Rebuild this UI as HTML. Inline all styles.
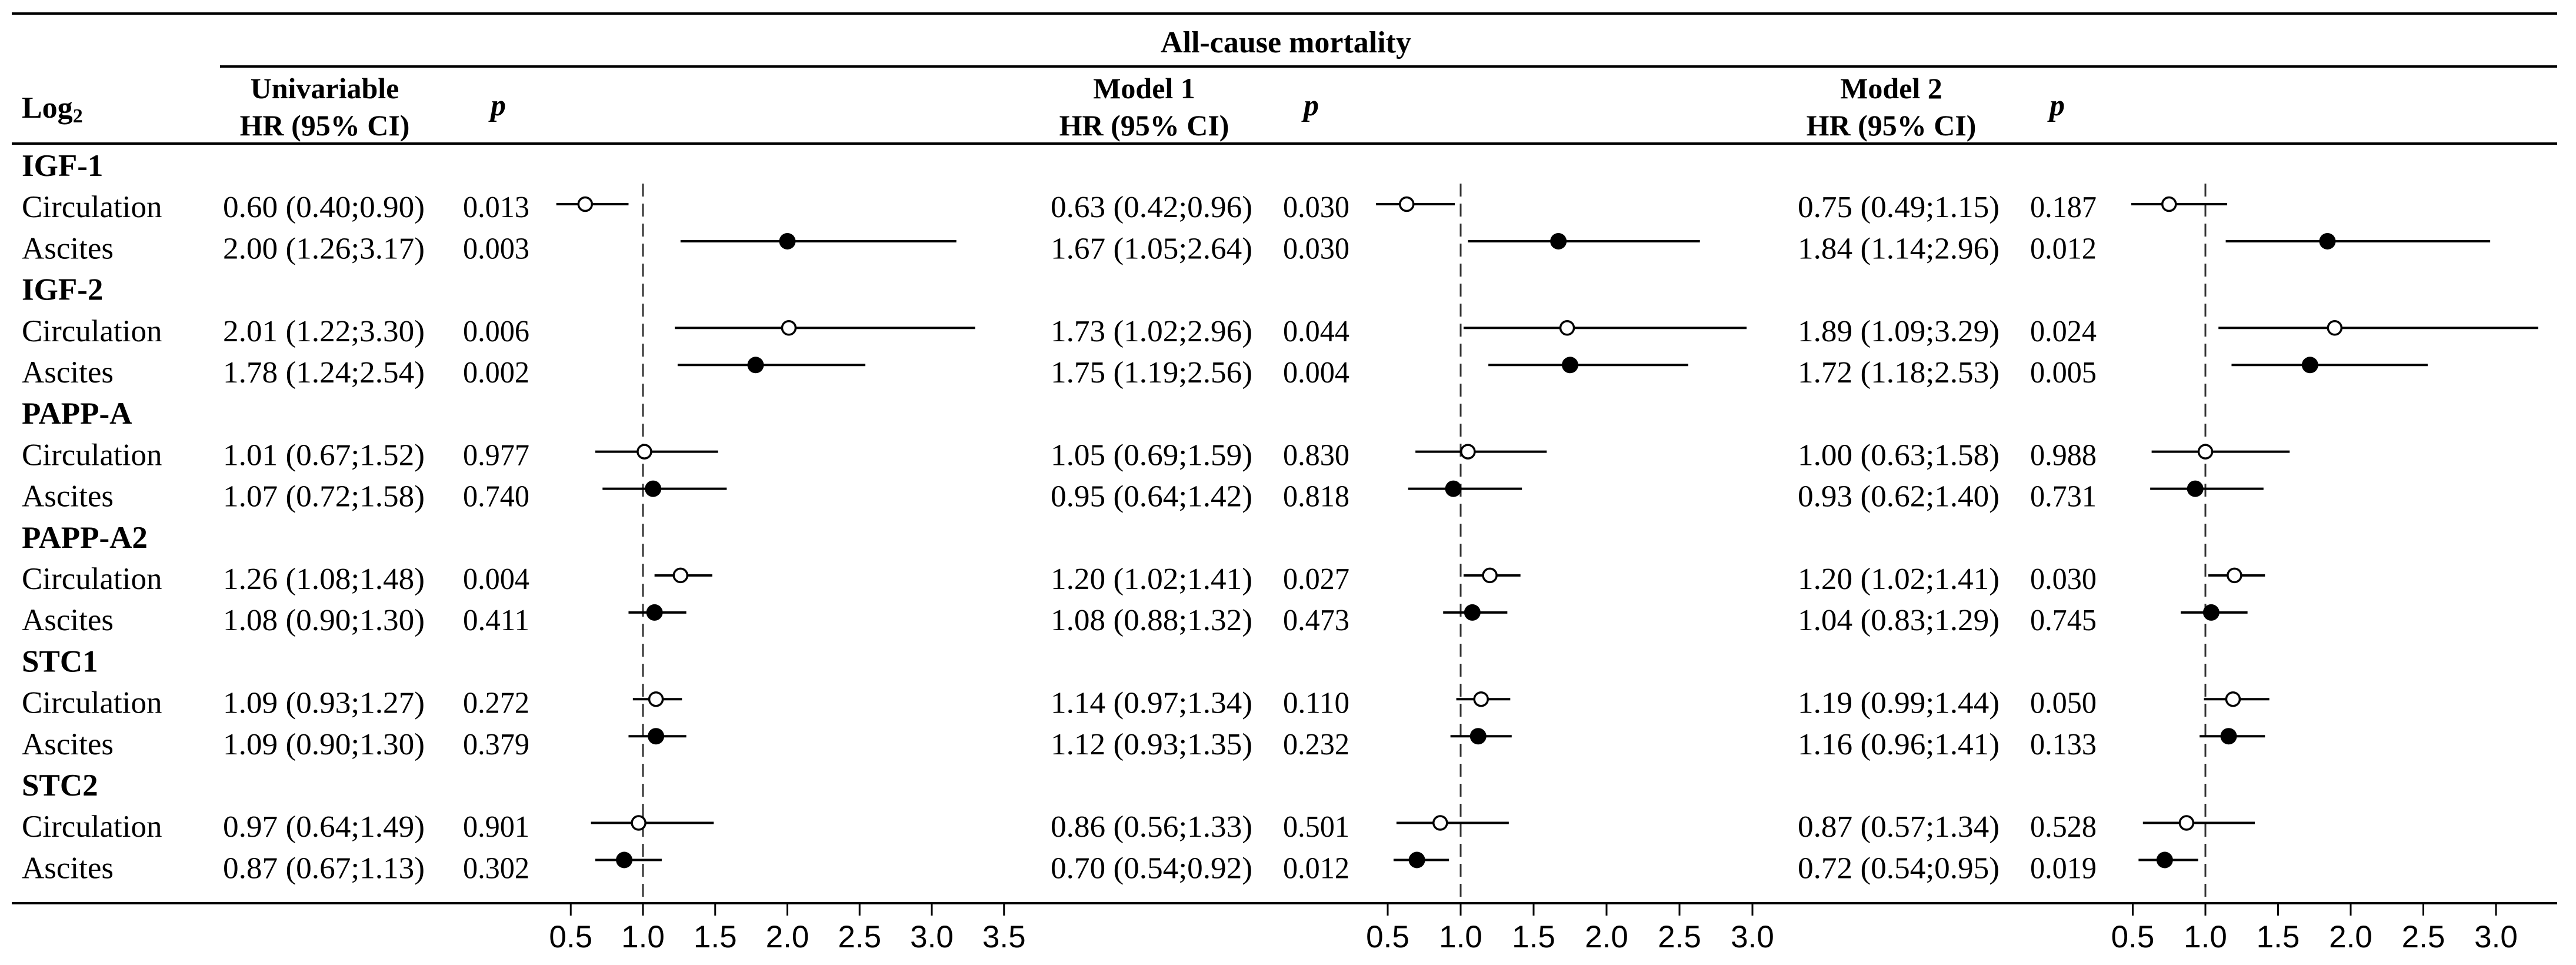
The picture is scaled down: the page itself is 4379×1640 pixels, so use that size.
<!DOCTYPE html>
<html><head><meta charset="utf-8"><style>
html,body{margin:0;padding:0;background:#fff;}
svg{display:block;}
text{font-family:"Liberation Serif",serif;fill:#000;}
.t{font-family:"Liberation Sans",sans-serif;font-size:53px;}
</style></head><body>
<svg id="chart" width="4379" height="1640" viewBox="0 0 4379 1640" xmlns="http://www.w3.org/2000/svg">
<g id="static">
<line x1="20" y1="23" x2="4347" y2="23" stroke="#000" stroke-width="4"/>
<text font-weight="bold" x="2186" y="89" font-size="52" text-anchor="middle">All-cause mortality</text>
<line x1="374" y1="113" x2="4347" y2="113" stroke="#000" stroke-width="4"/>
<text font-weight="bold" x="37" y="200" font-size="52">Log<tspan font-size="34" dy="8">2</tspan></text>
<line x1="20" y1="244" x2="4347" y2="244" stroke="#000" stroke-width="4"/>
<line x1="20" y1="1535" x2="4347" y2="1535" stroke="#000" stroke-width="4"/>
</g>
<g id="dyn"></g>
</svg>
<script>
const groups = ["IGF-1","IGF-2","PAPP-A","PAPP-A2","STC1","STC2"];
const sources = ["Circulation","Ascites"];
// Univariable
const uniHR = [0.60,2.00,2.01,1.78,1.01,1.07,1.26,1.08,1.09,1.09,0.97,0.87];
const uniLo = [0.40,1.26,1.22,1.24,0.67,0.72,1.08,0.90,0.93,0.90,0.64,0.67];
const uniHi = [0.90,3.17,3.30,2.54,1.52,1.58,1.48,1.30,1.27,1.30,1.49,1.13];
const uniP  = ["0.013","0.003","0.006","0.002","0.977","0.740","0.004","0.411","0.272","0.379","0.901","0.302"];
// Model 1
const m1HR = [0.63,1.67,1.73,1.75,1.05,0.95,1.20,1.08,1.14,1.12,0.86,0.70];
const m1Lo = [0.42,1.05,1.02,1.19,0.69,0.64,1.02,0.88,0.97,0.93,0.56,0.54];
const m1Hi = [0.96,2.64,2.96,2.56,1.59,1.42,1.41,1.32,1.34,1.35,1.33,0.92];
const m1P  = ["0.030","0.030","0.044","0.004","0.830","0.818","0.027","0.473","0.110","0.232","0.501","0.012"];
// Model 2
const m2HR = [0.75,1.84,1.89,1.72,1.00,0.93,1.20,1.04,1.19,1.16,0.87,0.72];
const m2Lo = [0.49,1.14,1.09,1.18,0.63,0.62,1.02,0.83,0.99,0.96,0.57,0.54];
const m2Hi = [1.15,2.96,3.29,2.53,1.58,1.40,1.41,1.29,1.44,1.41,1.34,0.95];
const m2P  = ["0.187","0.012","0.024","0.005","0.988","0.731","0.030","0.745","0.050","0.133","0.528","0.019"];
const ticks1 = [0.5,1.0,1.5,2.0,2.5,3.0,3.5];
const ticks23 = [0.5,1.0,1.5,2.0,2.5,3.0];

const NS="http://www.w3.org/2000/svg";
const root=document.getElementById('dyn');
function mk(tag,attrs,txt){const e=document.createElementNS(NS,tag);for(const k in attrs)e.setAttribute(k,attrs[k]);if(txt!==undefined)e.textContent=txt;root.appendChild(e);return e;}
const ROW0=299, STEP=70.2;
function rowBase(r){return ROW0+STEP*r;}
const MK0=347, GSTEP=210.3, ASTEP=63;

groups.forEach((g,gi)=>{
  const t=mk('text',{x:37,y:rowBase(gi*3),'font-size':53,'font-weight':'bold'},g);
  
  
  sources.forEach((s,si)=>{
    const l=mk('text',{x:37,y:rowBase(gi*3+1+si),'font-size':53},s);
    
    
  });
});

const panels=[
 {name:'univariable',title:'Univariable',hrX:379,hrW:343,pX:787,pHdr:847,hdrC:552,one:1093,unit:245.5,ticks:ticks1,hr:uniHR,lo:uniLo,hi:uniHi,p:uniP},
 {name:'model-1',title:'Model 1',hrX:1786,hrW:343,pX:2181,pHdr:2229,hdrC:1945,one:2483,unit:248,ticks:ticks23,hr:m1HR,lo:m1Lo,hi:m1Hi,p:m1P},
 {name:'model-2',title:'Model 2',hrX:3056,hrW:343,pX:3451,pHdr:3497,hdrC:3215,one:3749,unit:247,ticks:ticks23,hr:m2HR,lo:m2Lo,hi:m2Hi,p:m2P}
];
panels.forEach(P=>{
  const xs=v=>P.one+(v-1)*P.unit;
  let h=mk('text',{x:P.hdrC,y:167,'font-size':50,'font-weight':'bold','text-anchor':'middle'},P.title);
  
  
  h=mk('text',{x:P.hdrC,y:230,'font-size':50,'font-weight':'bold','text-anchor':'middle'},'HR (95% CI)');
  
  
  h=mk('text',{x:P.pHdr,y:196,'font-size':52,'font-weight':'bold','font-style':'italic','text-anchor':'middle'},'p');
  
  
  const d=mk('line',{x1:xs(1),y1:312,x2:xs(1),y2:1535,stroke:'#333','stroke-width':3,'stroke-dasharray':'22 12'});
  
  
  P.ticks.forEach(v=>{
    const tk=mk('line',{x1:xs(v),y1:1535,x2:xs(v),y2:1556,stroke:'#000','stroke-width':3});
    
    
    const tl=mk('text',{x:xs(v),y:1610,class:'t','text-anchor':'middle'},v.toFixed(1));
    
    
  });
  P.hr.forEach((v,i)=>{
    const g=Math.floor(i/2), s=i%2;
    const by=rowBase(g*3+1+s);
    const my=MK0+GSTEP*g+ASTEP*s;
    const txt=v.toFixed(2)+' ('+P.lo[i].toFixed(2)+';'+P.hi[i].toFixed(2)+')';
    const t=mk('text',{x:P.hrX,y:by,'font-size':52,textLength:P.hrW,lengthAdjust:'spacingAndGlyphs'},txt);
    
    
    const pt=mk('text',{x:P.pX,y:by,'font-size':52,textLength:113,lengthAdjust:'spacingAndGlyphs'},P.p[i]);
    
    
    const ci=mk('line',{x1:xs(P.lo[i]),y1:my,x2:xs(P.hi[i]),y2:my,stroke:'#000','stroke-width':4});
    
    
    const open=(s===0);
    const c=mk('circle',{cx:xs(v),cy:my,r:open?11.5:14,fill:open?'#fff':'#000',stroke:'#000','stroke-width':open?3.5:0});
    
    
  });
});
</script>
</body></html>
